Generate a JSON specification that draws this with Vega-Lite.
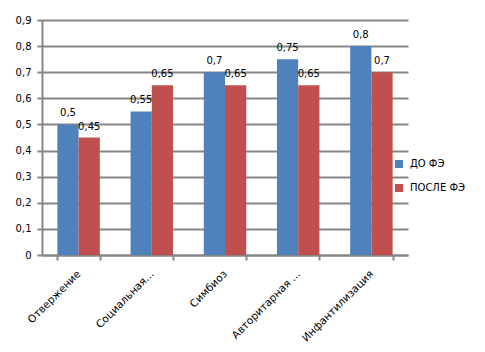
{
  "$schema": "https://vega.github.io/schema/vega-lite/v6.json",
  "autosize": "none",
  "width": 366,
  "height": 235,
  "padding": {"left": 42, "top": 20, "right": 77, "bottom": 97},
  "config": {
    "locale": {"number": {"decimal": ",", "thousands": " ", "grouping": [3], "currency": ["", ""]}},
    "font": "DejaVu Sans",
    "view": {"stroke": null}
  },
  "data": {
    "values": [
      {"cat": "Отвержение", "series": "ДО ФЭ", "v": 0.5},
      {"cat": "Отвержение", "series": "ПОСЛЕ ФЭ", "v": 0.45},
      {"cat": "Социальная...", "series": "ДО ФЭ", "v": 0.55},
      {"cat": "Социальная...", "series": "ПОСЛЕ ФЭ", "v": 0.65},
      {"cat": "Симбиоз", "series": "ДО ФЭ", "v": 0.7},
      {"cat": "Симбиоз", "series": "ПОСЛЕ ФЭ", "v": 0.65},
      {"cat": "Авторитарная ...", "series": "ДО ФЭ", "v": 0.75},
      {"cat": "Авторитарная ...", "series": "ПОСЛЕ ФЭ", "v": 0.65},
      {"cat": "Инфантилизация", "series": "ДО ФЭ", "v": 0.8},
      {"cat": "Инфантилизация", "series": "ПОСЛЕ ФЭ", "v": 0.7}
    ]
  },
  "encoding": {
    "x": {
      "field": "cat", "type": "nominal", "sort": null,
      "scale": {"paddingInner": 0.42, "paddingOuter": 0.21},
      "axis": {
        "title": null, "labelAngle": -45, "labelAlign": "right", "labelBaseline": "middle",
        "labelFontSize": 10.5, "labelColor": "#000", "labelPadding": 12,
        "tickBand": "extent", "tickSize": 5, "tickColor": "#868686", "tickWidth": 2,
        "domainColor": "#868686", "domainWidth": 2, "grid": false
      }
    },
    "xOffset": {"field": "series", "type": "nominal", "scale": {"paddingInner": 0}},
    "y": {
      "field": "v", "type": "quantitative",
      "scale": {"domain": [0, 0.9], "nice": false},
      "axis": {
        "title": null, "values": [0, 0.1, 0.2, 0.3, 0.4, 0.5, 0.6, 0.7, 0.8, 0.9],
        "format": ".1~f", "labelFontSize": 10, "labelColor": "#000", "labelPadding": 6,
        "tickSize": 5, "tickColor": "#868686", "tickWidth": 2,
        "domainColor": "#868686", "domainWidth": 2,
        "gridColor": "#868686", "gridWidth": 2
      }
    },
    "color": {
      "field": "series", "type": "nominal",
      "scale": {"domain": ["ДО ФЭ", "ПОСЛЕ ФЭ"], "range": ["#4F81BD", "#C0504D"]},
      "legend": {
        "title": null, "orient": "none", "legendX": 352, "legendY": 139,
        "symbolType": "square", "symbolSize": 64, "labelFontSize": 10,
        "labelColor": "#000", "rowPadding": 14, "labelOffset": 6, "symbolStrokeWidth": 0
      }
    }
  },
  "layer": [
    {"mark": {"type": "bar"}},
    {
      "mark": {"type": "text", "baseline": "bottom", "dy": -6, "fontSize": 10, "color": "#000"},
      "encoding": {"text": {"field": "v", "type": "quantitative", "format": "~g"}, "color": {"value": "#000"}}
    }
  ]
}
